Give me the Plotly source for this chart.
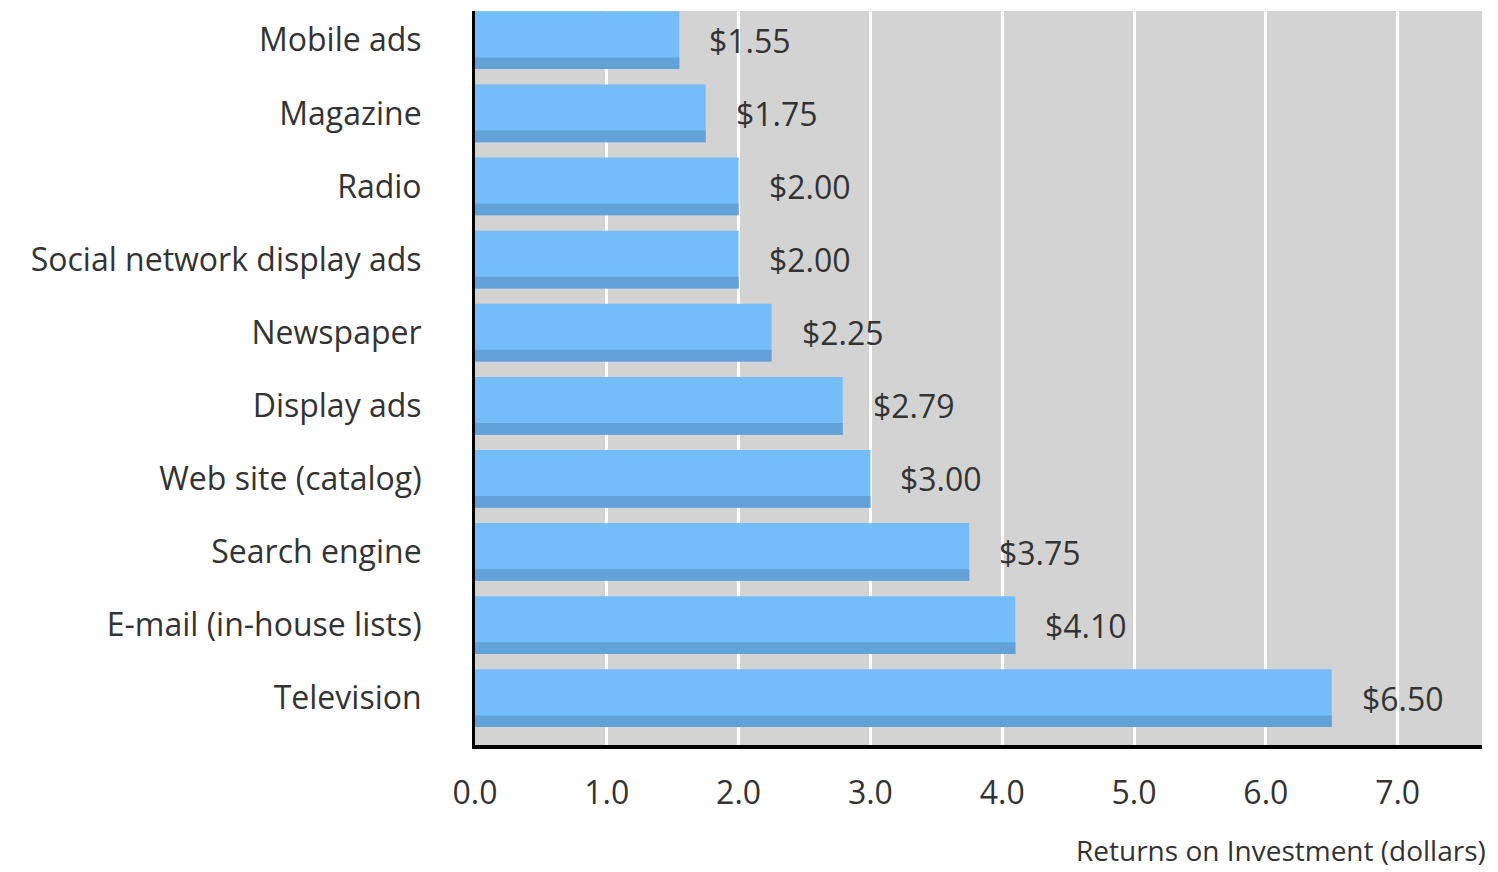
import plotly.graph_objects as go

channels = ["Mobile ads", "Magazine", "Radio", "Social network display ads", "Newspaper",
            "Display ads", "Web site (catalog)", "Search engine", "E-mail (in-house lists)", "Television"]
roi = [1.55, 1.75, 2.00, 2.00, 2.25, 2.79, 3.00, 3.75, 4.10, 6.50]
labels = ["$1.55", "$1.75", "$2.00", "$2.00", "$2.25", "$2.79", "$3.00", "$3.75", "$4.10", "$6.50"]
tick_vals = [0, 1, 2, 3, 4, 5, 6, 7]
tick_text = ["0.0", "1.0", "2.0", "3.0", "4.0", "5.0", "6.0", "7.0"]

FONT = "Open Sans"
TXT = "#333333"

fig = go.Figure()
fig.add_trace(go.Bar(
    y=channels, x=roi, orientation="h",
    width=0.79, offset=-0.395,
    marker=dict(color="#74BDF9", line=dict(width=0)),
    hoverinfo="skip",
))
fig.add_trace(go.Bar(
    y=channels, x=roi, orientation="h",
    width=0.16, offset=-0.395,
    marker=dict(color="#62A2D9", line=dict(width=0)),
    hoverinfo="skip",
))

for c, v, t in zip(channels, roi, labels):
    fig.add_annotation(x=v, y=c, text=t, showarrow=False, xanchor="left", xshift=28,
                       font=dict(family=FONT, size=32, color=TXT))

fig.add_annotation(x=1, y=0, xref="paper", yref="paper", xanchor="right", yanchor="middle",
                   xshift=6, yshift=-105, text="Returns on Investment (dollars)",
                   showarrow=False, font=dict(family=FONT, size=28, color=TXT))

fig.update_layout(
    width=1498, height=872,
    margin=dict(l=475, r=16, t=11, b=127),
    barmode="overlay",
    showlegend=False,
    paper_bgcolor="white",
    plot_bgcolor="#D3D3D3",
    font=dict(family=FONT, color=TXT),
)
fig.update_xaxes(
    range=[0, 7.64], tickvals=tick_vals, ticktext=tick_text,
    showgrid=True, gridcolor="white", gridwidth=3, zeroline=False,
    showline=True, linecolor="black", linewidth=4,
    tickfont=dict(family=FONT, size=32, color=TXT), ticks="", ticklabelstandoff=17,
)
fig.update_yaxes(
    categoryorder="array", categoryarray=channels[::-1],
    range=[-0.64, 9.4], showgrid=False, zeroline=False,
    showline=True, linecolor="black", linewidth=3,
    tickfont=dict(family=FONT, size=32, color=TXT), ticks="", ticklabelstandoff=44,
)

fig.write_html("out.html")
